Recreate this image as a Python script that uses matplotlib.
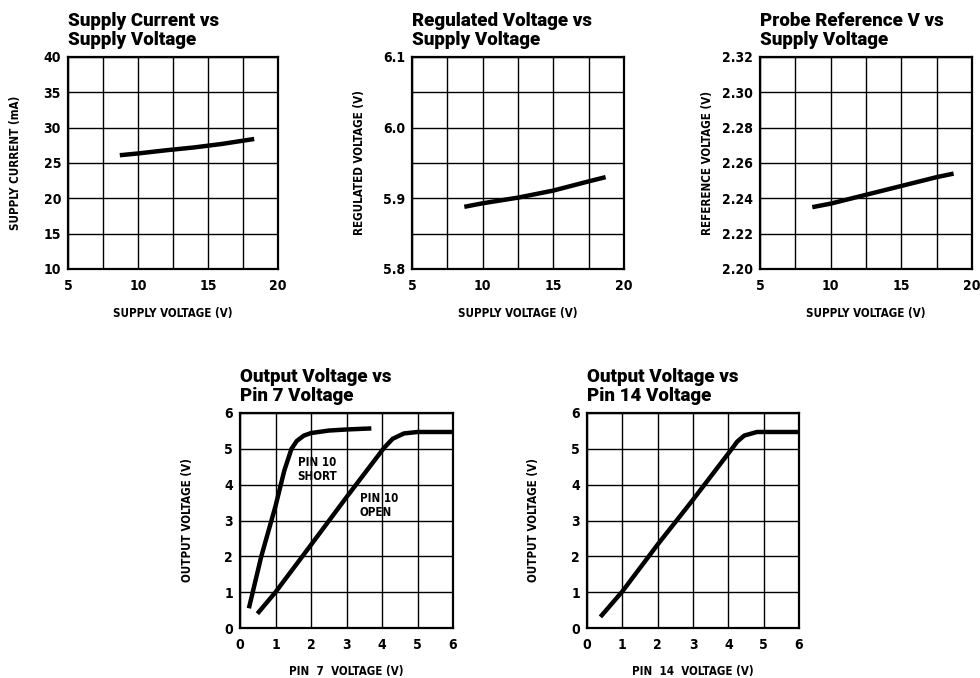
import matplotlib
matplotlib.use("Agg")
import matplotlib.pyplot as plt
from matplotlib.font_manager import FontProperties
import numpy as np

# ---- data ----
sc_x = [8.7, 10, 12, 14, 16, 18.3]
sc_y = [26.1, 26.35, 26.8, 27.2, 27.7, 28.4]

rv_x = [8.7, 10, 12.5, 15, 17.5, 18.7]
rv_y = [5.888, 5.893, 5.901, 5.911, 5.924, 5.930]

pr_x = [8.7, 10, 12.5, 15, 17.5, 18.7]
pr_y = [2.235, 2.237, 2.242, 2.247, 2.252, 2.254]

p7_short_x = [0.25, 0.6, 1.0, 1.25, 1.45, 1.6, 1.8, 2.0, 2.5, 3.0, 3.7]
p7_short_y = [0.55, 2.0, 3.4, 4.4, 5.0, 5.22, 5.37, 5.44, 5.51, 5.54, 5.57]

p7_open_x = [0.49, 1.0, 2.0, 3.0, 4.06, 4.3, 4.62, 5.0, 6.0]
p7_open_y = [0.40, 1.0, 2.32, 3.65, 5.03, 5.28, 5.43, 5.47, 5.47]

p14_x = [0.38, 1.0, 2.0, 3.0, 4.1, 4.25, 4.45, 4.81, 6.0]
p14_y = [0.31, 1.02, 2.33, 3.58, 5.0, 5.2, 5.37, 5.47, 5.47]

W, H = 980, 678
fig = plt.figure(figsize=(W / 100, H / 100), dpi=100)

tick_fp = FontProperties(family='DejaVu Sans', weight='bold', stretch='condensed', size=10)
lab_fp = FontProperties(family='DejaVu Sans', weight='bold', stretch='condensed', size=8.3)
title_fp = FontProperties(family=['Roboto', 'DejaVu Sans'], weight='black', size=13.5)


def make_ax(x0, x1, y0, y1):
    return fig.add_axes([x0 / W, 1 - y1 / H, (x1 - x0) / W, (y1 - y0) / H])


def style(ax, title, xlabel, ylabel, xlim, ylim, xgrid, ygrid, xticks, yticks, xtl, ytl):
    ax.set_xlim(*xlim)
    ax.set_ylim(*ylim)
    for g in xgrid:
        ax.axvline(g, color='black', lw=1.0, zorder=1)
    for g in ygrid:
        ax.axhline(g, color='black', lw=1.0, zorder=1)
    ax.set_xticks(xticks)
    ax.set_yticks(yticks)
    ax.set_xticklabels(xtl, fontproperties=tick_fp)
    ax.set_yticklabels(ytl, fontproperties=tick_fp)
    ax.tick_params(axis='x', length=0, pad=7)
    ax.tick_params(axis='y', length=0, pad=5)
    for s in ax.spines.values():
        s.set_linewidth(1.6)
        s.set_color('black')
    bb = ax.get_position()
    wpx = bb.width * W
    hpx = bb.height * H
    ax.set_xlabel(xlabel, fontproperties=lab_fp)
    ax.set_ylabel(ylabel, fontproperties=lab_fp)
    ax.xaxis.set_label_coords(0.5, -(313 - 269) / hpx)
    ax.xaxis.label.set_verticalalignment('center')
    ax.yaxis.set_label_coords(-53 / wpx, 0.5)
    ax.yaxis.label.set_verticalalignment('center')
    ax.text(0, 1 + 8 / hpx, title, transform=ax.transAxes, fontproperties=title_fp,
            ha='left', va='bottom', linespacing=1.05)


LW = 3.2

# Plot 1
ax1 = make_ax(68, 278, 57, 269)
style(ax1, 'Supply Current vs\nSupply Voltage', 'SUPPLY VOLTAGE (V)', 'SUPPLY CURRENT (mA)',
      (5, 20), (10, 40), np.arange(5, 20.1, 2.5), np.arange(10, 40.1, 5),
      [5, 10, 15, 20], np.arange(10, 41, 5), ['5', '10', '15', '20'],
      [str(v) for v in range(10, 41, 5)])
ax1.plot(sc_x, sc_y, color='black', lw=LW, solid_capstyle='butt', zorder=3)

# Plot 2
ax2 = make_ax(412, 624, 57, 269)
style(ax2, 'Regulated Voltage vs\nSupply Voltage', 'SUPPLY VOLTAGE (V)', 'REGULATED VOLTAGE (V)',
      (5, 20), (5.8, 6.1), np.arange(5, 20.1, 2.5), np.arange(5.8, 6.101, 0.05),
      [5, 10, 15, 20], [5.8, 5.9, 6.0, 6.1], ['5', '10', '15', '20'],
      ['5.8', '5.9', '6.0', '6.1'])
ax2.plot(rv_x, rv_y, color='black', lw=LW, solid_capstyle='butt', zorder=3)

# Plot 3
ax3 = make_ax(760, 972, 57, 269)
style(ax3, 'Probe Reference V vs\nSupply Voltage', 'SUPPLY VOLTAGE (V)', 'REFERENCE VOLTAGE (V)',
      (5, 20), (2.20, 2.32), np.arange(5, 20.1, 2.5), np.arange(2.20, 2.3201, 0.02),
      [5, 10, 15, 20], [2.20, 2.22, 2.24, 2.26, 2.28, 2.30, 2.32], ['5', '10', '15', '20'],
      ['2.20', '2.22', '2.24', '2.26', '2.28', '2.30', '2.32'])
ax3.plot(pr_x, pr_y, color='black', lw=LW, solid_capstyle='butt', zorder=3)

# Plot 4
ax4 = make_ax(240, 453, 413, 628)
style(ax4, 'Output Voltage vs\nPin 7 Voltage', 'PIN  7  VOLTAGE (V)', 'OUTPUT VOLTAGE (V)',
      (0, 6), (0, 6), range(0, 7), range(0, 7), range(0, 7), range(0, 7),
      [str(v) for v in range(7)], [str(v) for v in range(7)])
ax4.plot(p7_short_x, p7_short_y, color='black', lw=LW, solid_capstyle='butt', zorder=3)
ax4.plot(p7_open_x, p7_open_y, color='black', lw=LW, solid_capstyle='butt', zorder=3)
ax4.text(1.62, 4.8, 'PIN 10\nSHORT', fontproperties=lab_fp, va='top', ha='left', linespacing=1.15)
ax4.text(3.37, 3.8, 'PIN 10\nOPEN', fontproperties=lab_fp, va='top', ha='left', linespacing=1.15)

# Plot 5
ax5 = make_ax(587, 799, 413, 628)
style(ax5, 'Output Voltage vs\nPin 14 Voltage', 'PIN  14  VOLTAGE (V)', 'OUTPUT VOLTAGE (V)',
      (0, 6), (0, 6), range(0, 7), range(0, 7), range(0, 7), range(0, 7),
      [str(v) for v in range(7)], [str(v) for v in range(7)])
ax5.plot(p14_x, p14_y, color='black', lw=LW, solid_capstyle='butt', zorder=3)

fig.savefig('out.png', dpi=100)
